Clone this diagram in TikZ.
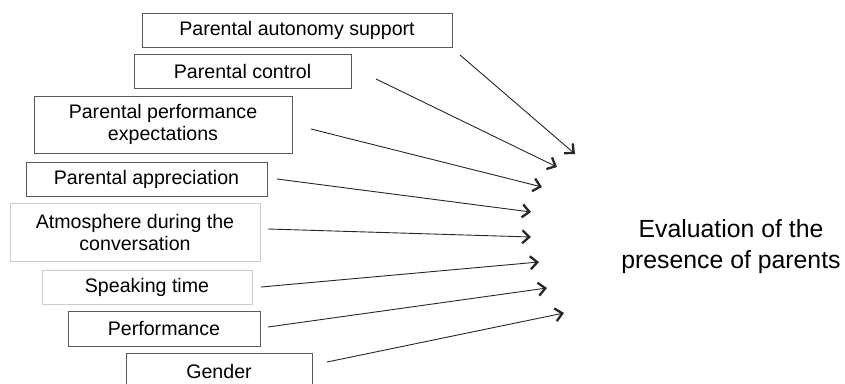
\documentclass[tikz,border=0pt]{standalone}
\usepackage{fontspec}
\setmainfont{Liberation Sans}
\usetikzlibrary{arrows.meta}

\begin{document}
\begin{tikzpicture}[x=1pt, y=-1pt,
    factor/.style={draw=gray!70!black, line width=0.9pt, align=center, inner sep=0pt,
      font=\fontsize{19.6}{22}\selectfont},
    pale/.style={factor, draw=gray!40},
    effect/.style={line width=0.9pt, draw=black!85,
      -{Straight Barb[length=7pt, width=13pt, line width=2.3pt]}}]
        \useasboundingbox (0,0) rectangle (845,383);

        % predictors
        \node [factor, minimum width=310pt, minimum height=34pt] (autonomy)    at (297,30)    {Parental autonomy support};
        \node [factor, minimum width=217pt, minimum height=34pt] (control)     at (242.5,71)  {Parental control};
        \node [factor, minimum width=258pt, minimum height=57pt] (expect)      at (163,124.5) {Parental performance\\expectations};
        \node [factor, minimum width=241pt, minimum height=34pt] (appreciate)  at (146.5,179) {Parental appreciation};
        \node [pale,   minimum width=250pt, minimum height=58pt] (atmosphere)  at (135,232)   {Atmosphere during the\\conversation};
        \node [pale,   minimum width=210pt, minimum height=34pt] (speaking)    at (147,287)   {Speaking time};
        \node [factor, minimum width=192pt, minimum height=35pt] (performance) at (164,328.5) {Performance};
        \node [factor, minimum width=186pt, minimum height=37pt] (gender)      at (219,371.5) {Gender};

        % outcome
        \node [align=center, font=\fontsize{24.8}{31}\selectfont] (evaluation) at (731,246.5)
              {Evaluation of the\\presence of parents};

        % arrow ends
        \coordinate (autonomy-s)    at (460,55);  \coordinate (autonomy-t)    at (575,154);
        \coordinate (control-s)     at (376,79);  \coordinate (control-t)     at (557,167);
        \coordinate (expect-s)      at (311,129); \coordinate (expect-t)      at (542,187);
        \coordinate (appreciate-s)  at (277,179); \coordinate (appreciate-t)  at (531,212);
        \coordinate (atmosphere-s)  at (268,229); \coordinate (atmosphere-t)  at (531,237);
        \coordinate (speaking-s)    at (261,287); \coordinate (speaking-t)    at (539,262);
        \coordinate (performance-s) at (268,327); \coordinate (performance-t) at (547,288);
        \coordinate (gender-s)      at (327,362); \coordinate (gender-t)      at (564,313);

        \draw [effect] (autonomy-s)    -- (autonomy-t);
        \draw [effect] (control-s)     -- (control-t);
        \draw [effect] (expect-s)      -- (expect-t);
        \draw [effect] (appreciate-s)  -- (appreciate-t);
        \draw [effect] (atmosphere-s)  -- (atmosphere-t);
        \draw [effect] (speaking-s)    -- (speaking-t);
        \draw [effect] (performance-s) -- (performance-t);
        \draw [effect] (gender-s)      -- (gender-t);
\end{tikzpicture}
\end{document}
